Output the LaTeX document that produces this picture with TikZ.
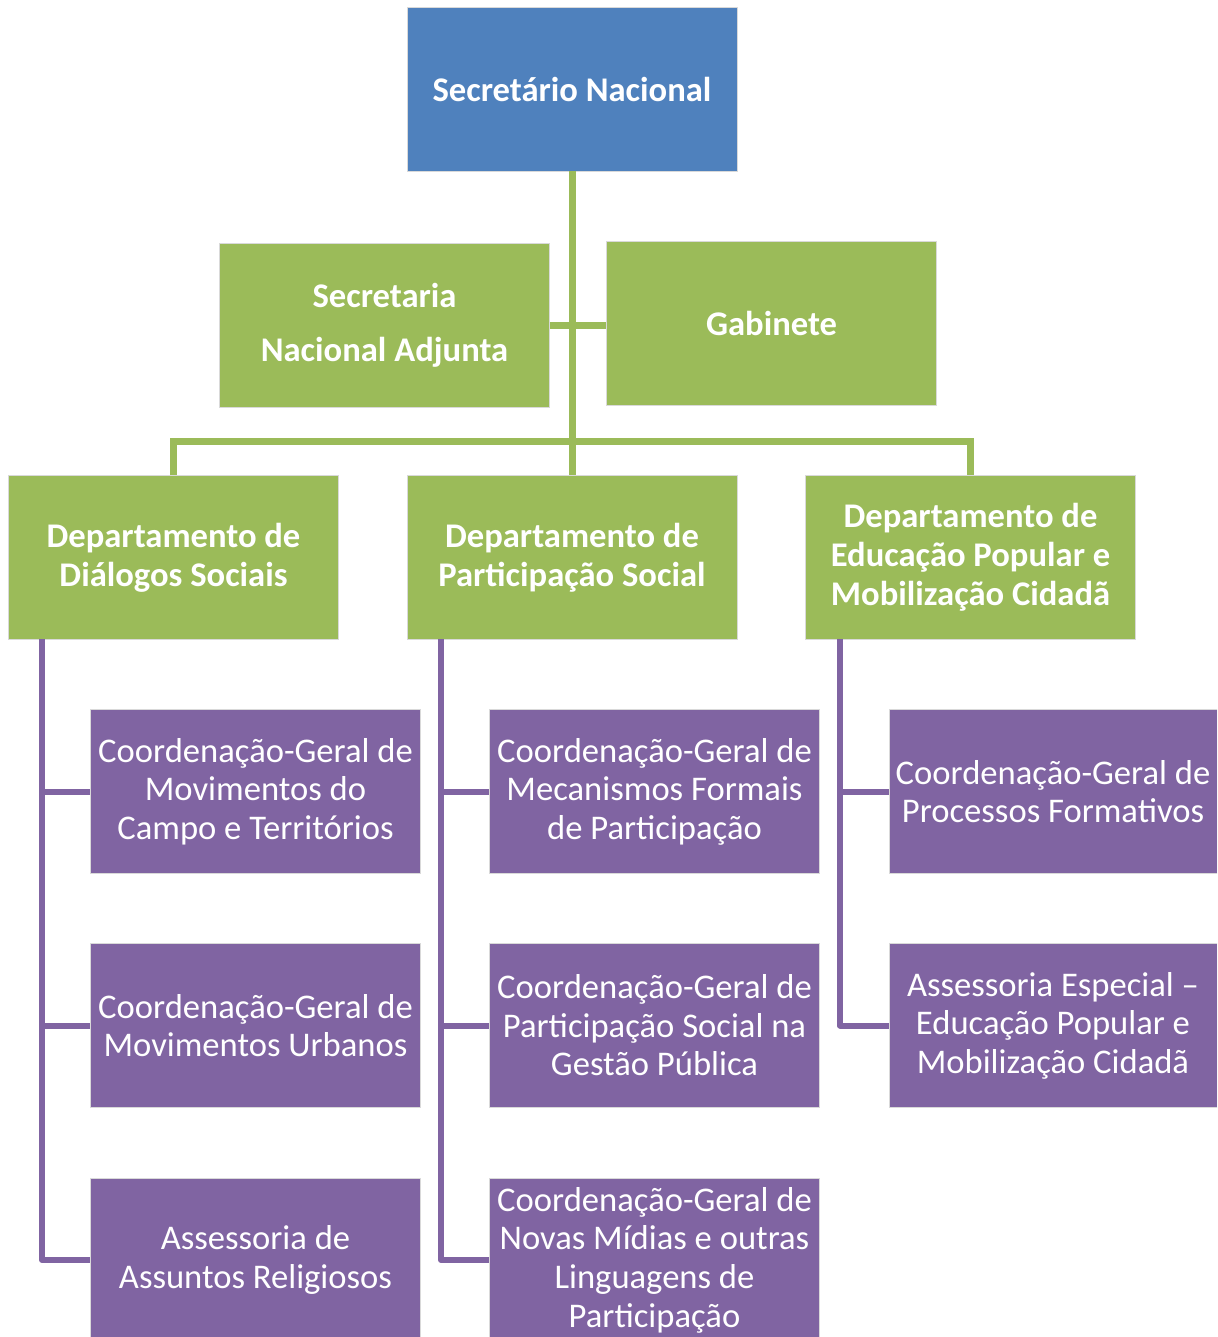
\documentclass[tikz,border=0pt]{standalone}
\usepackage{fontspec}
\setmainfont{Carlito}
\definecolor{blueB}{HTML}{4F81BD}
\definecolor{greenB}{HTML}{9BBB59}
\definecolor{purpleB}{HTML}{8064A2}
\begin{document}
\begin{tikzpicture}[x=0.5pt,y=-0.5pt]
\tikzset{
  box/.style={rectangle, minimum width=165pt, minimum height=82pt, inner sep=0pt, text=white, align=center, draw=white!85!black, line width=0.4pt},
  bluebox/.style={box, fill=blueB, font=\bfseries\fontsize{17.3}{19.5}\selectfont},
  gbox/.style={box, fill=greenB, font=\bfseries\fontsize{17.3}{19.5}\selectfont},
  pbox/.style={box, fill=purpleB, font=\fontsize{17.3}{19.3}\selectfont},
  gline/.style={draw=greenB, line width=3.5pt},
  pline/.style={draw=purpleB, line width=3pt, line join=round}
}
\path[use as bounding box] (0,0) rectangle (1217,1337);
\clip (0,0) rectangle (1217,1337);
\fill[white] (0,0) rectangle (1217,1337);

% nodes
\node[bluebox] (top) at (572,89) {Secretário Nacional};
\node[gbox, font=\bfseries\fontsize{17.3}{27}\selectfont] (adj) at (384.5,325) {Secretaria\\Nacional Adjunta};
\node[gbox] (gab) at (771.5,323) {Gabinete};
\node[gbox] (dd) at (173.5,557.5) {Departamento de\\Diálogos Sociais};
\node[gbox] (dp) at (572,557.5) {Departamento de\\Participação Social};
\node[gbox] (de) at (970.5,557.5) {Departamento de\\Educação Popular e\\Mobilização Cidadã};

\node[pbox] (c11) at (255.5,791.5) {Coordenação-Geral de\\Movimentos do\\Campo e Territórios};
\node[pbox] (c12) at (255.5,1025.5) {Coordenação-Geral de\\Movimentos Urbanos};
\node[pbox] (c13) at (255.5,1260) {Assessoria de\\Assuntos Religiosos};

\node[pbox] (c21) at (654.5,791.5) {Coordenação-Geral de\\Mecanismos Formais\\de Participação};
\node[pbox] (c22) at (654.5,1025.5) {Coordenação-Geral de\\Participação Social na\\Gestão Pública};
\node[pbox] (c23) at (654.5,1260) {Coordenação-Geral de\\Novas Mídias e outras\\Linguagens de\\Participação};

\node[pbox, minimum width=164pt] (c31) at (1053,791.5) {Coordenação-Geral de\\Processos Formativos};
\node[pbox, minimum width=164pt] (c32) at (1053,1025.5) {Assessoria Especial --\\Educação Popular e\\Mobilização Cidadã};

% green connectors
\coordinate (bus) at (572,441);
\draw[gline] (top.south) -- (dp.north);
\draw[gline] (adj.east) -- (gab.west |- adj.east);
\draw[gline] (dd.north) |- (bus) -| (de.north);

% purple connectors
\coordinate (v1) at (42,639);
\coordinate (v2) at (441,639);
\coordinate (v3) at (840,639);
\draw[pline] (v1) |- (c11.west);
\draw[pline] (v1) |- (c12.west);
\draw[pline] (v1) |- (c13.west);
\draw[pline] (v2) |- (c21.west);
\draw[pline] (v2) |- (c22.west);
\draw[pline] (v2) |- (c23.west);
\draw[pline] (v3) |- (c31.west);
\draw[pline] (v3) |- (c32.west);
\end{tikzpicture}
\end{document}
